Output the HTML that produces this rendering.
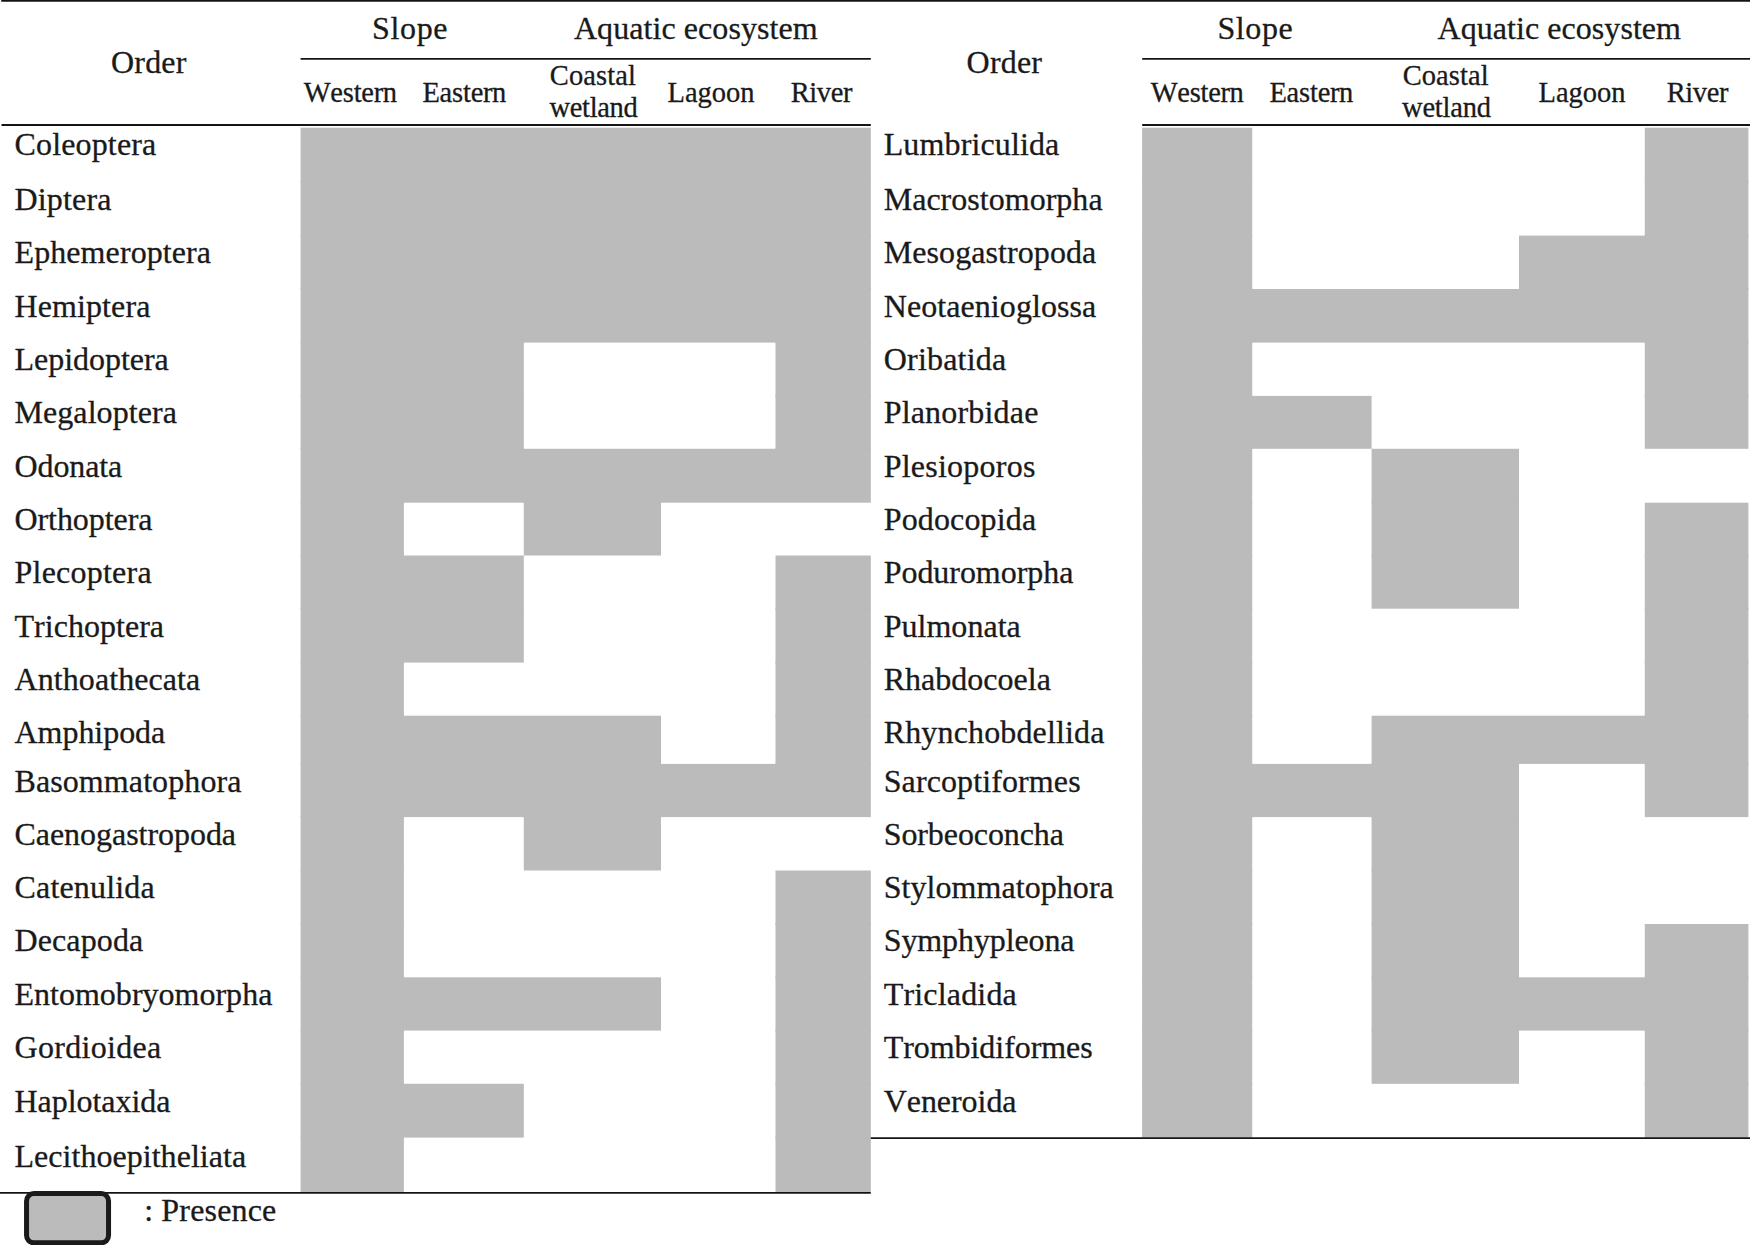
<!DOCTYPE html>
<html lang="en"><head><meta charset="utf-8"><title>Order presence table</title>
<style>
html,body{margin:0;padding:0;background:#fff;}
body{width:1750px;height:1245px;position:relative;overflow:hidden;font-family:"Liberation Serif","Times New Roman",serif;color:#1a1a1a;}
.t{position:absolute;line-height:1em;white-space:nowrap;font-kerning:none;font-variant-ligatures:none;-webkit-text-stroke:0.3px #1a1a1a;}
.f32{font-size:32px;} .f29{font-size:28.5px;}
.g{position:absolute;background:#bbbbbb;}
svg.ln{position:absolute;left:0;top:0;}
</style></head><body>
<svg class="ln" width="1750" height="1245" viewBox="0 0 1750 1245"><g class="grid-left" fill="#bbbbbb"><rect x="300.6" y="127.7" width="570.2" height="53.9"/><rect x="300.6" y="180.6" width="570.2" height="2.0"/><rect x="300.6" y="181.6" width="570.2" height="54.0"/><rect x="300.6" y="234.6" width="570.2" height="2.0"/><rect x="300.6" y="235.6" width="570.2" height="53.4"/><rect x="300.6" y="288.0" width="570.2" height="2.0"/><rect x="300.6" y="289.0" width="570.2" height="53.6"/><rect x="300.6" y="341.6" width="223.2" height="2.0"/><rect x="775.5" y="341.6" width="95.3" height="2.0"/><rect x="300.6" y="342.6" width="223.2" height="53.3"/><rect x="300.6" y="394.9" width="223.2" height="2.0"/><rect x="775.5" y="342.6" width="95.3" height="53.3"/><rect x="775.5" y="394.9" width="95.3" height="2.0"/><rect x="300.6" y="395.9" width="223.2" height="52.9"/><rect x="300.6" y="447.8" width="223.2" height="2.0"/><rect x="775.5" y="395.9" width="95.3" height="52.9"/><rect x="775.5" y="447.8" width="95.3" height="2.0"/><rect x="300.6" y="448.8" width="570.2" height="53.9"/><rect x="300.6" y="501.7" width="103.3" height="2.0"/><rect x="523.8" y="501.7" width="137.2" height="2.0"/><rect x="300.6" y="502.7" width="103.3" height="52.8"/><rect x="300.6" y="554.5" width="103.3" height="2.0"/><rect x="523.8" y="502.7" width="137.2" height="52.8"/><rect x="300.6" y="555.5" width="223.2" height="53.2"/><rect x="300.6" y="607.7" width="223.2" height="2.0"/><rect x="775.5" y="555.5" width="95.3" height="53.2"/><rect x="775.5" y="607.7" width="95.3" height="2.0"/><rect x="300.6" y="608.7" width="223.2" height="53.9"/><rect x="300.6" y="661.6" width="103.3" height="2.0"/><rect x="775.5" y="608.7" width="95.3" height="53.9"/><rect x="775.5" y="661.6" width="95.3" height="2.0"/><rect x="300.6" y="662.6" width="103.3" height="53.1"/><rect x="300.6" y="714.7" width="103.3" height="2.0"/><rect x="775.5" y="662.6" width="95.3" height="53.1"/><rect x="775.5" y="714.7" width="95.3" height="2.0"/><rect x="300.6" y="715.7" width="360.4" height="48.2"/><rect x="300.6" y="762.9" width="360.4" height="2.0"/><rect x="775.5" y="715.7" width="95.3" height="48.2"/><rect x="775.5" y="762.9" width="95.3" height="2.0"/><rect x="300.6" y="763.9" width="570.2" height="53.2"/><rect x="300.6" y="816.1" width="103.3" height="2.0"/><rect x="523.8" y="816.1" width="137.2" height="2.0"/><rect x="300.6" y="817.1" width="103.3" height="53.4"/><rect x="300.6" y="869.5" width="103.3" height="2.0"/><rect x="523.8" y="817.1" width="137.2" height="53.4"/><rect x="300.6" y="870.5" width="103.3" height="53.5"/><rect x="300.6" y="923.0" width="103.3" height="2.0"/><rect x="775.5" y="870.5" width="95.3" height="53.5"/><rect x="775.5" y="923.0" width="95.3" height="2.0"/><rect x="300.6" y="924.0" width="103.3" height="53.3"/><rect x="300.6" y="976.3" width="103.3" height="2.0"/><rect x="775.5" y="924.0" width="95.3" height="53.3"/><rect x="775.5" y="976.3" width="95.3" height="2.0"/><rect x="300.6" y="977.3" width="360.4" height="53.3"/><rect x="300.6" y="1029.6" width="103.3" height="2.0"/><rect x="775.5" y="977.3" width="95.3" height="53.3"/><rect x="775.5" y="1029.6" width="95.3" height="2.0"/><rect x="300.6" y="1030.6" width="103.3" height="53.2"/><rect x="300.6" y="1082.8" width="103.3" height="2.0"/><rect x="775.5" y="1030.6" width="95.3" height="53.2"/><rect x="775.5" y="1082.8" width="95.3" height="2.0"/><rect x="300.6" y="1083.8" width="223.2" height="53.8"/><rect x="300.6" y="1136.6" width="103.3" height="2.0"/><rect x="775.5" y="1083.8" width="95.3" height="53.8"/><rect x="775.5" y="1136.6" width="95.3" height="2.0"/><rect x="300.6" y="1137.6" width="103.3" height="54.5"/><rect x="775.5" y="1137.6" width="95.3" height="54.5"/></g><g class="grid-right" fill="#bbbbbb"><rect x="1142.1" y="127.7" width="110.1" height="53.9"/><rect x="1142.1" y="180.6" width="110.1" height="2.0"/><rect x="1644.8" y="127.7" width="103.6" height="53.9"/><rect x="1644.8" y="180.6" width="103.6" height="2.0"/><rect x="1142.1" y="181.6" width="110.1" height="54.0"/><rect x="1142.1" y="234.6" width="110.1" height="2.0"/><rect x="1644.8" y="181.6" width="103.6" height="54.0"/><rect x="1644.8" y="234.6" width="103.6" height="2.0"/><rect x="1142.1" y="235.6" width="110.1" height="53.4"/><rect x="1142.1" y="288.0" width="110.1" height="2.0"/><rect x="1519.0" y="235.6" width="229.4" height="53.4"/><rect x="1519.0" y="288.0" width="229.4" height="2.0"/><rect x="1142.1" y="289.0" width="606.3" height="53.6"/><rect x="1142.1" y="341.6" width="110.1" height="2.0"/><rect x="1644.8" y="341.6" width="103.6" height="2.0"/><rect x="1142.1" y="342.6" width="110.1" height="53.3"/><rect x="1142.1" y="394.9" width="110.1" height="2.0"/><rect x="1644.8" y="342.6" width="103.6" height="53.3"/><rect x="1644.8" y="394.9" width="103.6" height="2.0"/><rect x="1142.1" y="395.9" width="229.5" height="52.9"/><rect x="1142.1" y="447.8" width="110.1" height="2.0"/><rect x="1644.8" y="395.9" width="103.6" height="52.9"/><rect x="1142.1" y="448.8" width="110.1" height="53.9"/><rect x="1142.1" y="501.7" width="110.1" height="2.0"/><rect x="1371.6" y="448.8" width="147.4" height="53.9"/><rect x="1371.6" y="501.7" width="147.4" height="2.0"/><rect x="1142.1" y="502.7" width="110.1" height="52.8"/><rect x="1142.1" y="554.5" width="110.1" height="2.0"/><rect x="1371.6" y="502.7" width="147.4" height="52.8"/><rect x="1371.6" y="554.5" width="147.4" height="2.0"/><rect x="1644.8" y="502.7" width="103.6" height="52.8"/><rect x="1644.8" y="554.5" width="103.6" height="2.0"/><rect x="1142.1" y="555.5" width="110.1" height="53.2"/><rect x="1142.1" y="607.7" width="110.1" height="2.0"/><rect x="1371.6" y="555.5" width="147.4" height="53.2"/><rect x="1644.8" y="555.5" width="103.6" height="53.2"/><rect x="1644.8" y="607.7" width="103.6" height="2.0"/><rect x="1142.1" y="608.7" width="110.1" height="53.9"/><rect x="1142.1" y="661.6" width="110.1" height="2.0"/><rect x="1644.8" y="608.7" width="103.6" height="53.9"/><rect x="1644.8" y="661.6" width="103.6" height="2.0"/><rect x="1142.1" y="662.6" width="110.1" height="53.1"/><rect x="1142.1" y="714.7" width="110.1" height="2.0"/><rect x="1644.8" y="662.6" width="103.6" height="53.1"/><rect x="1644.8" y="714.7" width="103.6" height="2.0"/><rect x="1142.1" y="715.7" width="110.1" height="48.2"/><rect x="1142.1" y="762.9" width="110.1" height="2.0"/><rect x="1371.6" y="715.7" width="376.8" height="48.2"/><rect x="1371.6" y="762.9" width="147.4" height="2.0"/><rect x="1644.8" y="762.9" width="103.6" height="2.0"/><rect x="1142.1" y="763.9" width="376.9" height="53.2"/><rect x="1142.1" y="816.1" width="110.1" height="2.0"/><rect x="1371.6" y="816.1" width="147.4" height="2.0"/><rect x="1644.8" y="763.9" width="103.6" height="53.2"/><rect x="1142.1" y="817.1" width="110.1" height="53.4"/><rect x="1142.1" y="869.5" width="110.1" height="2.0"/><rect x="1371.6" y="817.1" width="147.4" height="53.4"/><rect x="1371.6" y="869.5" width="147.4" height="2.0"/><rect x="1142.1" y="870.5" width="110.1" height="53.5"/><rect x="1142.1" y="923.0" width="110.1" height="2.0"/><rect x="1371.6" y="870.5" width="147.4" height="53.5"/><rect x="1371.6" y="923.0" width="147.4" height="2.0"/><rect x="1142.1" y="924.0" width="110.1" height="53.3"/><rect x="1142.1" y="976.3" width="110.1" height="2.0"/><rect x="1371.6" y="924.0" width="147.4" height="53.3"/><rect x="1371.6" y="976.3" width="147.4" height="2.0"/><rect x="1644.8" y="924.0" width="103.6" height="53.3"/><rect x="1644.8" y="976.3" width="103.6" height="2.0"/><rect x="1142.1" y="977.3" width="110.1" height="53.3"/><rect x="1142.1" y="1029.6" width="110.1" height="2.0"/><rect x="1371.6" y="977.3" width="376.8" height="53.3"/><rect x="1371.6" y="1029.6" width="147.4" height="2.0"/><rect x="1644.8" y="1029.6" width="103.6" height="2.0"/><rect x="1142.1" y="1030.6" width="110.1" height="53.2"/><rect x="1142.1" y="1082.8" width="110.1" height="2.0"/><rect x="1371.6" y="1030.6" width="147.4" height="53.2"/><rect x="1644.8" y="1030.6" width="103.6" height="53.2"/><rect x="1644.8" y="1082.8" width="103.6" height="2.0"/><rect x="1142.1" y="1083.8" width="110.1" height="53.8"/><rect x="1644.8" y="1083.8" width="103.6" height="53.8"/></g></svg>
<svg class="ln" width="1750" height="1245" viewBox="0 0 1750 1245"><line x1="1.2" y1="0.85" x2="1750" y2="0.85" stroke="#141414" stroke-width="1.95"/><line x1="300.6" y1="58.8" x2="870.8" y2="58.8" stroke="#141414" stroke-width="1.7"/><line x1="1142.2" y1="58.9" x2="1750" y2="58.9" stroke="#141414" stroke-width="1.7"/><line x1="1.5" y1="125.0" x2="870.8" y2="125.0" stroke="#141414" stroke-width="1.9"/><line x1="1142.2" y1="125.0" x2="1750" y2="125.0" stroke="#141414" stroke-width="1.9"/><line x1="0" y1="1192.9" x2="870.8" y2="1192.9" stroke="#141414" stroke-width="1.8"/><line x1="870.8" y1="1138.2" x2="1750" y2="1138.2" stroke="#141414" stroke-width="1.7"/><rect class="legend" x="26.55" y="1193.6" width="82" height="49.2" rx="7.3" ry="7.3" fill="#bbbbbb" stroke="#1a1a18" stroke-width="5"/></svg>
<div class="t f32" id="L0" style="left:14.50px;top:128px;letter-spacing:0.156px;">Coleoptera</div>
<div class="t f32" id="L1" style="left:14.50px;top:183px;letter-spacing:0.167px;">Diptera</div>
<div class="t f32" id="L2" style="left:14.50px;top:236px;letter-spacing:0.092px;">Ephemeroptera</div>
<div class="t f32" id="L3" style="left:14.50px;top:290px;letter-spacing:0.100px;">Hemiptera</div>
<div class="t f32" id="L4" style="left:14.50px;top:343px;letter-spacing:-0.030px;">Lepidoptera</div>
<div class="t f32" id="L5" style="left:14.50px;top:396px;letter-spacing:0.070px;">Megaloptera</div>
<div class="t f32" id="L6" style="left:14.50px;top:450px;letter-spacing:-0.117px;">Odonata</div>
<div class="t f32" id="L7" style="left:14.50px;top:503px;letter-spacing:-0.078px;">Orthoptera</div>
<div class="t f32" id="L8" style="left:14.50px;top:556px;letter-spacing:0.233px;">Plecoptera</div>
<div class="t f32" id="L9" style="left:14.50px;top:610px;letter-spacing:0.030px;">Trichoptera</div>
<div class="t f32" id="L10" style="left:14.50px;top:663px;letter-spacing:0.083px;">Anthoathecata</div>
<div class="t f32" id="L11" style="left:14.50px;top:716px;letter-spacing:-0.038px;">Amphipoda</div>
<div class="t f32" id="L12" style="left:14.50px;top:765px;letter-spacing:0.092px;">Basommatophora</div>
<div class="t f32" id="L13" style="left:14.50px;top:818px;letter-spacing:-0.043px;">Caenogastropoda</div>
<div class="t f32" id="L14" style="left:14.50px;top:871px;letter-spacing:0.178px;">Catenulida</div>
<div class="t f32" id="L15" style="left:14.50px;top:924px;letter-spacing:0.114px;">Decapoda</div>
<div class="t f32" id="L16" style="left:14.50px;top:978px;letter-spacing:0.007px;">Entomobryomorpha</div>
<div class="t f32" id="L17" style="left:14.50px;top:1031px;letter-spacing:0.311px;">Gordioidea</div>
<div class="t f32" id="L18" style="left:14.50px;top:1085px;letter-spacing:-0.050px;">Haplotaxida</div>
<div class="t f32" id="L19" style="left:14.50px;top:1140px;letter-spacing:0.035px;">Lecithoepitheliata</div>
<div class="t f32" id="R0" style="left:883.70px;top:128px;letter-spacing:0.127px;">Lumbriculida</div>
<div class="t f32" id="R1" style="left:883.70px;top:183px;letter-spacing:0.023px;">Macrostomorpha</div>
<div class="t f32" id="R2" style="left:883.70px;top:236px;letter-spacing:0.085px;">Mesogastropoda</div>
<div class="t f32" id="R3" style="left:883.70px;top:290px;letter-spacing:0.079px;">Neotaenioglossa</div>
<div class="t f32" id="R4" style="left:883.70px;top:343px;letter-spacing:0.213px;">Oribatida</div>
<div class="t f32" id="R5" style="left:883.70px;top:396px;letter-spacing:0.180px;">Planorbidae</div>
<div class="t f32" id="R6" style="left:883.70px;top:450px;letter-spacing:0.230px;">Plesioporos</div>
<div class="t f32" id="R7" style="left:883.70px;top:503px;letter-spacing:0.156px;">Podocopida</div>
<div class="t f32" id="R8" style="left:883.70px;top:556px;letter-spacing:-0.045px;">Poduromorpha</div>
<div class="t f32" id="R9" style="left:883.70px;top:610px;letter-spacing:0.025px;">Pulmonata</div>
<div class="t f32" id="R10" style="left:883.70px;top:663px;letter-spacing:0.010px;">Rhabdocoela</div>
<div class="t f32" id="R11" style="left:883.70px;top:716px;letter-spacing:0.150px;">Rhynchobdellida</div>
<div class="t f32" id="R12" style="left:883.70px;top:765px;letter-spacing:0.108px;">Sarcoptiformes</div>
<div class="t f32" id="R13" style="left:883.70px;top:818px;letter-spacing:-0.091px;">Sorbeoconcha</div>
<div class="t f32" id="R14" style="left:883.70px;top:871px;letter-spacing:0.057px;">Stylommatophora</div>
<div class="t f32" id="R15" style="left:883.70px;top:924px;letter-spacing:-0.100px;">Symphypleona</div>
<div class="t f32" id="R16" style="left:883.70px;top:978px;letter-spacing:0.178px;">Tricladida</div>
<div class="t f32" id="R17" style="left:883.70px;top:1031px;letter-spacing:-0.054px;">Trombidiformes</div>
<div class="t f32" id="R18" style="left:883.70px;top:1085px;letter-spacing:-0.050px;">Veneroida</div>
<div class="t f32" id="hOrderL" style="left:111.10px;top:46px;letter-spacing:0.150px;">Order</div>
<div class="t f32" id="hSlopeL" style="left:371.95px;top:12px;letter-spacing:0.675px;">Slope</div>
<div class="t f32" id="hAquaL" style="left:573.95px;top:12px;letter-spacing:0.069px;">Aquatic ecosystem</div>
<div class="t f29" id="hWestL" style="left:303.70px;top:79px;letter-spacing:-0.233px;">Weste<span style="letter-spacing:-0.58px">r</span>n</div>
<div class="t f29" id="hEastL" style="left:422.40px;top:79px;letter-spacing:-0.200px;">Easte<span style="letter-spacing:-0.55px">r</span>n</div>
<div class="t f29" id="hCoastL" style="left:549.80px;top:62px;letter-spacing:0.100px;">Coastal</div>
<div class="t f29" id="hWetL" style="left:549.50px;top:94px;letter-spacing:-0.333px;">wetland</div>
<div class="t f29" id="hLagL" style="left:667.50px;top:79px;">Lagoon</div>
<div class="t f29" id="hRivL" style="left:790.70px;top:79px;letter-spacing:-0.400px;">River</div>
<div class="t f32" id="hOrderR" style="left:966.60px;top:46px;letter-spacing:0.200px;">Order</div>
<div class="t f32" id="hSlopeR" style="left:1217.40px;top:12px;letter-spacing:0.600px;">Slope</div>
<div class="t f32" id="hAquaR" style="left:1437.60px;top:12px;letter-spacing:0.050px;">Aquatic ecosystem</div>
<div class="t f29" id="hWestR" style="left:1150.65px;top:79px;letter-spacing:-0.250px;">Weste<span style="letter-spacing:-0.60px">r</span>n</div>
<div class="t f29" id="hEastR" style="left:1269.40px;top:79px;letter-spacing:-0.200px;">Easte<span style="letter-spacing:-0.55px">r</span>n</div>
<div class="t f29" id="hCoastR" style="left:1402.70px;top:62px;letter-spacing:0.067px;">Coastal</div>
<div class="t f29" id="hWetR" style="left:1402.10px;top:94px;letter-spacing:-0.233px;">wetland</div>
<div class="t f29" id="hLagR" style="left:1538.50px;top:79px;">Lagoon</div>
<div class="t f29" id="hRivR" style="left:1666.70px;top:79px;letter-spacing:-0.400px;">River</div>
<div class="t f32" id="legend" style="left:144.15px;top:1194px;letter-spacing:0.167px;">: Presence</div>
</body></html>
